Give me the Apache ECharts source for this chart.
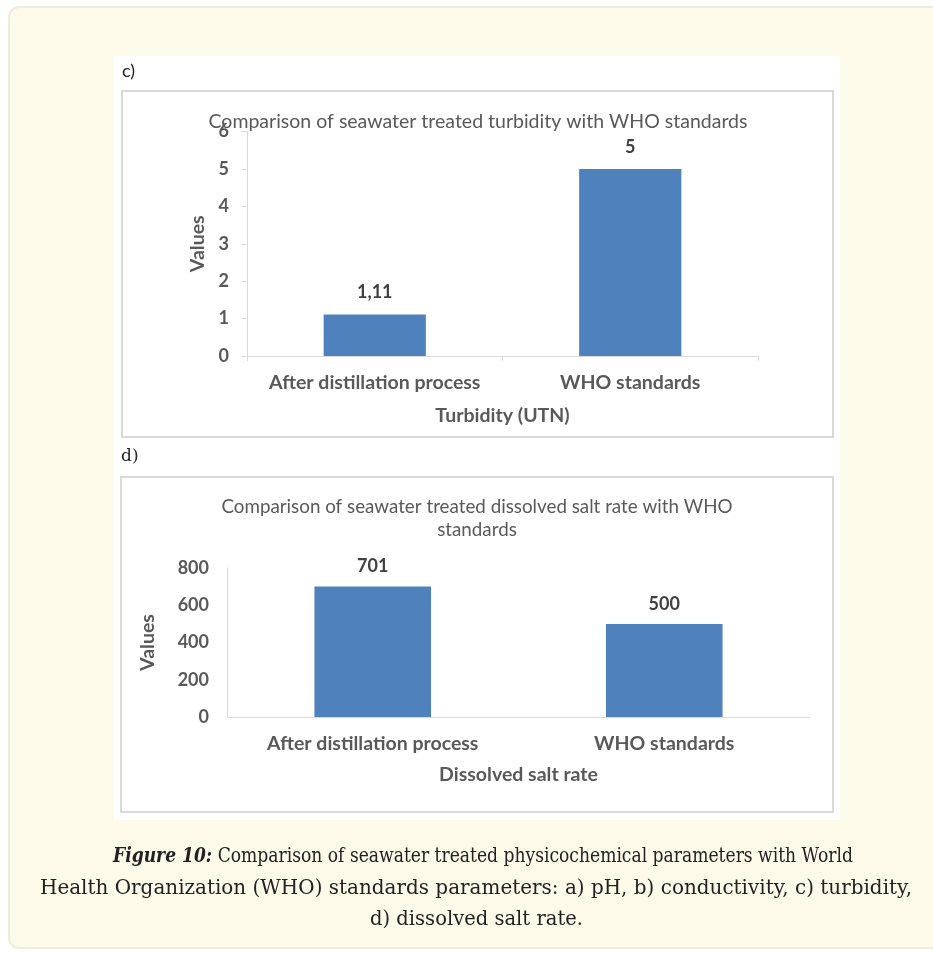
<!DOCTYPE html>
<html><head><meta charset="utf-8">
<script src="https://cdn.jsdelivr.net/npm/echarts@6/dist/echarts.min.js"></script>
<style>html,body{margin:0;padding:0;background:#fff;}#c{width:933px;height:953px;}</style>
</head><body><div id="c"></div>
<script>
// ---- data ----
const categories = ['After distillation process', 'WHO standards'];
const turbidityValues = [1.11, 5];
const saltValues = [701, 500];
const turbidityTitle = 'Comparison of seawater treated turbidity with WHO standards';
const saltTitleLines = ['Comparison of seawater treated dissolved salt rate with WHO', 'standards'];
const turbidityAxisName = 'Turbidity (UTN)';
const saltAxisName = 'Dissolved salt rate';
const valueAxisName = 'Values';
const captionLead = 'Figure 10:';
const captionLines = [
  'Comparison of seawater treated physicochemical parameters with World',
  'Health Organization (WHO) standards parameters: a) pH, b) conductivity, c) turbidity,',
  'd) dissolved salt rate.'
];

// ---- styling ----
const axisGray = '#d9d9d9';
const labelGray = '#595959';
const barBlue = '#4f81bd';
const FF = 'Lato, "Open Sans", sans-serif';
const TXT = 19.5;   // text label size
const NUM = 18;     // numeric label size

const chart = echarts.init(document.getElementById('c'), null, {renderer: 'canvas'});

function catAxis(gridIndex, name, nameGap, margin, ticks) {
  return {
    type: 'category', gridIndex, data: categories,
    axisLine: {show: true, lineStyle: {color: axisGray, width: 1}},
    axisTick: {show: ticks, length: 5, lineStyle: {color: axisGray}},
    axisLabel: {interval: 0, hideOverlap: false, fontFamily: FF, fontWeight: 'bold', fontSize: TXT, color: labelGray, margin},
    name, nameLocation: 'middle', nameGap,
    nameTextStyle: {fontFamily: FF, fontWeight: 'bold', fontSize: TXT, color: labelGray}
  };
}
function valAxis(gridIndex, max, interval, nameGap, ticks) {
  return {
    type: 'value', gridIndex, min: 0, max, interval,
    splitLine: {show: false},
    axisLine: {show: true, lineStyle: {color: axisGray, width: 1}},
    axisTick: {show: ticks, length: 6, lineStyle: {color: axisGray}},
    axisLabel: {fontFamily: FF, fontWeight: 'bold', fontSize: NUM, color: labelGray, margin: 18},
    name: valueAxisName, nameLocation: 'middle', nameRotate: 90, nameGap,
    nameTextStyle: {fontFamily: FF, fontWeight: 'bold', fontSize: TXT, color: labelGray}
  };
}
function barSeries(idx, data, dist, fmt) {
  return {
    type: 'bar', xAxisIndex: idx, yAxisIndex: idx, data, barWidth: '40%',
    itemStyle: {color: barBlue},
    label: {show: true, position: 'top', distance: dist, fontFamily: FF, fontWeight: 'bold',
      fontSize: NUM, color: '#404040', formatter: fmt}
  };
}

// caption: each line fitted to its width in the reference
const capFamily = '"DejaVu Serif", serif';
const capSize = 21;
const ctx = document.createElement('canvas').getContext('2d');
function measure(i) {
  ctx.font = capSize + 'px ' + capFamily;
  let w = ctx.measureText((i === 0 ? ' ' : '') + captionLines[i]).width;
  if (i === 0) {
    ctx.font = 'italic bold ' + capSize + 'px ' + capFamily;
    w += ctx.measureText(captionLead).width;
  }
  return w;
}
const capWidth = [740, 872, 213];
const capX = [483, 476, 476.5];
const capY = [857, 889, 920];
const caption = captionLines.map((t, i) => ({
  type: 'text', x: capX[i], y: capY[i], scaleX: capWidth[i] / measure(i), originX: 0, originY: 0,
  style: {
    text: i === 0 ? '{b|' + captionLead + '} ' + t : t,
    align: 'center', verticalAlign: 'middle',
    font: capSize + 'px ' + capFamily, fill: '#222',
    rich: {b: {fontFamily: capFamily, fontSize: capSize, fontWeight: 'bold', fontStyle: 'italic', fill: '#222'}}
  }, z: 10
}));

const option = {
  backgroundColor: '#ffffff',
  animation: false,
  graphic: [
    {type: 'rect', shape: {x: 9, y: 7, width: 945, height: 941, r: 10}, style: {fill: '#fefae9', stroke: '#eeecdc', lineWidth: 2}, z: -20},
    {type: 'rect', shape: {x: 114, y: 56, width: 726, height: 764}, style: {fill: '#ffffff'}, z: -19},
    {type: 'rect', shape: {x: 122, y: 91, width: 711, height: 346}, style: {fill: '#ffffff', stroke: '#d9d9d9', lineWidth: 2}, z: -18},
    {type: 'rect', shape: {x: 121, y: 477, width: 712, height: 335}, style: {fill: '#ffffff', stroke: '#d9d9d9', lineWidth: 2}, z: -18},
    {type: 'text', x: 122, y: 71, style: {text: 'c)', verticalAlign: 'middle', font: '18px ' + FF, fill: '#222'}, z: 10},
    {type: 'text', x: 121, y: 457, style: {text: 'd)', verticalAlign: 'middle', font: '17px "DejaVu Serif", serif', fill: '#222'}, z: 10},
    {type: 'text', x: 478, y: 122, style: {text: turbidityTitle, align: 'center', verticalAlign: 'middle', font: '19.5px ' + FF, fill: labelGray}, z: 10},
    {type: 'text', x: 477, y: 507, style: {text: saltTitleLines[0], align: 'center', verticalAlign: 'middle', font: '18.8px ' + FF, fill: labelGray}, z: 10},
    {type: 'text', x: 477, y: 530, style: {text: saltTitleLines[1], align: 'center', verticalAlign: 'middle', font: '18.8px ' + FF, fill: labelGray}, z: 10}
  ].concat(caption),
  grid: [
    {left: 247, right: 933 - 758, top: 131.5, bottom: 953 - 356, containLabel: false},
    {left: 227, right: 933 - 810, top: 568, bottom: 953 - 717, containLabel: false}
  ],
  xAxis: [
    catAxis(0, turbidityAxisName, 50, 17, true),
    catAxis(1, saltAxisName, 48, 17, false)
  ],
  yAxis: [
    valAxis(0, 6, 1, 39, true),
    valAxis(1, 800, 200, 69, false)
  ],
  series: [
    barSeries(0, turbidityValues, 13, p => String(p.value).replace('.', ',')),
    barSeries(1, saltValues, 11, p => String(p.value))
  ]
};
chart.setOption(option);
</script>
</body></html>
